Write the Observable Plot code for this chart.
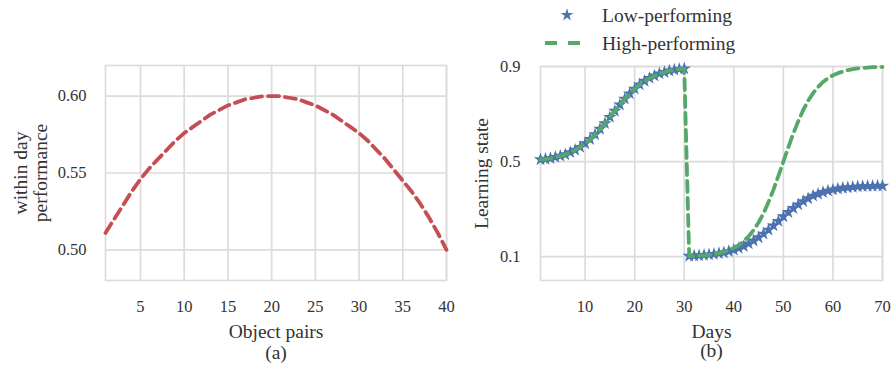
<!DOCTYPE html>
<html>
<head>
<meta charset="utf-8">
<script src="https://cdn.jsdelivr.net/npm/d3@7"></script>
<script src="https://cdn.jsdelivr.net/npm/@observablehq/plot@0.6"></script>
<style>
  html, body { margin: 0; padding: 0; background: white; }
  #wrap { position: relative; width: 894px; height: 371px; overflow: hidden; background: white; }
  #wrap > * { position: absolute; top: 0; }
</style>
</head>
<body>
<div id="wrap"></div>
<script>
// ---------- Panel (a) data ----------
const objectPairs = d3.range(1, 41);
const withinDay = [
  0.511, 0.520, 0.529, 0.538, 0.546, 0.553, 0.559, 0.565, 0.571, 0.576,
  0.580, 0.584, 0.588, 0.591, 0.594, 0.596, 0.598, 0.599, 0.600, 0.600,
  0.600, 0.599, 0.598, 0.596, 0.594, 0.591, 0.588, 0.584, 0.580, 0.576,
  0.571, 0.565, 0.559, 0.552, 0.545, 0.538, 0.530, 0.521, 0.511, 0.500
];
const xTicksA = [5, 10, 15, 20, 25, 30, 35, 40];
const yTicksA = [0.50, 0.55, 0.60];

// ---------- Panel (b) data ----------
const days = d3.range(1, 71);
const lowPerforming = [
  0.509, 0.511, 0.514, 0.519, 0.524, 0.530, 0.539, 0.549, 0.561, 0.576,
  0.594, 0.614, 0.637, 0.661, 0.687, 0.713, 0.739, 0.764, 0.786, 0.806,
  0.824, 0.839, 0.851, 0.861, 0.870, 0.876, 0.882, 0.886, 0.889, 0.891,
  0.103, 0.104, 0.105, 0.107, 0.109, 0.111, 0.114, 0.118, 0.123, 0.129,
  0.136, 0.144, 0.155, 0.167, 0.181, 0.196, 0.213, 0.231, 0.250, 0.269,
  0.287, 0.304, 0.319, 0.333, 0.345, 0.356, 0.364, 0.371, 0.377, 0.382,
  0.386, 0.389, 0.391, 0.393, 0.395, 0.396, 0.397, 0.397, 0.398, 0.398
];
const highPerforming = [
  0.509, 0.511, 0.514, 0.519, 0.524, 0.530, 0.539, 0.549, 0.561, 0.576,
  0.594, 0.614, 0.637, 0.661, 0.687, 0.713, 0.739, 0.764, 0.786, 0.806,
  0.824, 0.839, 0.851, 0.861, 0.870, 0.876, 0.882, 0.886, 0.889, 0.891,
  0.103, 0.103, 0.105, 0.106, 0.108, 0.111, 0.115, 0.121, 0.128, 0.137,
  0.149, 0.165, 0.186, 0.212, 0.244, 0.283, 0.330, 0.382, 0.440, 0.500,
  0.560, 0.618, 0.670, 0.717, 0.756, 0.788, 0.814, 0.835, 0.851, 0.863,
  0.872, 0.879, 0.885, 0.889, 0.892, 0.894, 0.895, 0.897, 0.897, 0.898
];
const xTicksB = [10, 20, 30, 40, 50, 60, 70];
const yTicksB = [0.1, 0.5, 0.9];
const seriesNames = ["Low-performing", "High-performing"];

// ---------- styles ----------
const FONT = "Liberation Serif, Times New Roman, serif";
const GRID = "#dcdcdc";
const RED = "#C44E52", BLUE = "#4C72B0", GREEN = "#55A868";

const dataA = objectPairs.map((x, i) => ({x, y: withinDay[i]}));
const lowData = days.map((x, i) => ({x, y: lowPerforming[i]}));
const highData = days.map((x, i) => ({x, y: highPerforming[i]}));

const gridStyle = {stroke: GRID, strokeOpacity: 1, strokeWidth: 1.7};
const label = (t, o) => Plot.text([t], {text: d => d, fontSize: 19.5, textAnchor: "middle", lineAnchor: "middle", ...o});

const plotA = Plot.plot({
  width: 460, height: 371,
  marginLeft: 105, marginRight: 14, marginTop: 65, marginBottom: 91,
  x: {domain: [1, 40]},
  y: {domain: [0.48, 0.62]},
  style: {fontFamily: FONT, color: "#333", background: "white", overflow: "visible"},
  marks: [
    Plot.gridX(xTicksA, gridStyle),
    Plot.gridY(yTicksA, gridStyle),
    Plot.frame({stroke: GRID, strokeWidth: 1.7}),
    Plot.axisX(xTicksA, {tickSize: 0, tickPadding: 20, fontSize: 16.5, label: null}),
    Plot.axisY(yTicksA, {tickSize: 0, tickPadding: 19, fontSize: 16.5, label: null, tickFormat: d3.format(".2f")}),
    Plot.line(dataA, {x: "x", y: "y", stroke: RED, strokeWidth: 3.8, strokeDasharray: "11,6"}),
    label("Object pairs", {frameAnchor: "bottom", dy: 51}),
    label("(a)", {frameAnchor: "bottom", dy: 72}),
    label("within day\nperformance", {frameAnchor: "left", dx: -75, rotate: -90, lineHeight: 1.05})
  ]
});

const plotB = Plot.plot({
  width: 434, height: 371,
  marginLeft: 80, marginRight: 12, marginTop: 66, marginBottom: 91,
  x: {domain: [1, 70]},
  y: {domain: [0, 0.9]},
  style: {fontFamily: FONT, color: "#333", background: "white", overflow: "visible"},
  marks: [
    Plot.gridX(xTicksB, gridStyle),
    Plot.gridY(yTicksB, gridStyle),
    Plot.frame({stroke: GRID, strokeWidth: 1.7}),
    Plot.axisX(xTicksB, {tickSize: 0, tickPadding: 20, fontSize: 16.5, label: null}),
    Plot.axisY(yTicksB, {tickSize: 0, tickPadding: 20, fontSize: 16.5, label: null, tickFormat: d3.format(".1f")}),
    Plot.dot(lowData, {x: "x", y: "y", symbol: "star", fill: BLUE, r: 4.2}),
    Plot.line(highData, {x: "x", y: "y", stroke: GREEN, strokeWidth: 3.8, strokeDasharray: "11,6"}),
    label("Days", {frameAnchor: "bottom", dy: 51}),
    label("(b)", {frameAnchor: "bottom", dy: 70}),
    label("Learning state", {frameAnchor: "left", dx: -59, rotate: -90})
  ]
});

const wrap = document.getElementById("wrap");
plotA.style.left = "0px";
plotB.style.left = "460px";
wrap.appendChild(plotA);
wrap.appendChild(plotB);

// ---------- legend ----------
const leg = d3.create("svg").attr("width", 894).attr("height", 60)
  .style("position", "absolute").style("left", "0px").style("top", "0px")
  .style("font-family", FONT);
leg.append("path")
  .attr("d", d3.symbol(d3.symbolStar, 50)())
  .attr("transform", "translate(567,15)")
  .attr("fill", BLUE);
leg.append("line")
  .attr("x1", 545).attr("x2", 581).attr("y1", 43).attr("y2", 43)
  .attr("stroke", GREEN).attr("stroke-width", 4).attr("stroke-dasharray", "12,11");
leg.selectAll("text").data(seriesNames).join("text")
  .attr("x", 602).attr("y", (d, i) => i === 0 ? 15 : 43)
  .attr("dy", "0.35em")
  .attr("font-size", 19.5).attr("fill", "#333")
  .text(d => d);
wrap.appendChild(leg.node());
</script>
</body>
</html>
